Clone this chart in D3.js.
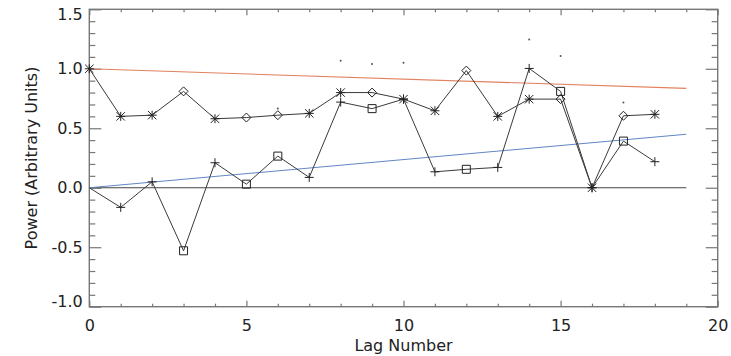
<!DOCTYPE html>
<html>
<head>
<meta charset="utf-8">
<script src="https://cdn.jsdelivr.net/npm/d3@7"></script>
<style>
  html, body { margin: 0; padding: 0; background: #fff; }
  svg { display: block; }
  text { font-family: "DejaVu Sans", sans-serif; fill: #222; }
</style>
</head>
<body>
<svg id="chart" width="731" height="356"></svg>
<script>
// Lag numbers
const lags = [0, 1, 2, 3, 4, 5, 6, 7, 8, 9, 10, 11, 12, 13, 14, 15, 16, 17, 18];

// Upper series (asterisk / diamond symbols)
const upperValues = [1.00, 0.60, 0.61, 0.81, 0.58, 0.59, 0.61, 0.625, 0.80, 0.80, 0.745, 0.647, 0.985, 0.60, 0.745, 0.745, 0.00, 0.605, 0.617];
const upperSymbols = ["asterisk", "asterisk", "asterisk", "diamond", "asterisk", "diamond", "diamond", "asterisk", "asterisk", "diamond", "asterisk", "asterisk", "diamond", "asterisk", "asterisk", "diamond", "asterisk", "diamond", "asterisk"];

// Lower series (plus / square symbols)
const lowerValues = [0.00, -0.165, 0.05, -0.53, 0.21, 0.03, 0.266, 0.087, 0.72, 0.665, 0.745, 0.134, 0.155, 0.171, 1.003, 0.81, 0.00, 0.392, 0.219];
const lowerSymbols = ["none", "plus", "plus", "square", "plus", "square", "square", "plus", "plus", "square", "plus", "plus", "square", "plus", "plus", "square", "plus", "square", "plus"];

// Isolated dot points
const dotLags = [6, 8, 9, 10, 14, 15, 17];
const dotValues = [0.667, 1.067, 1.04, 1.05, 1.247, 1.107, 0.717];

// Reference lines: [lagStart, valueStart, lagEnd, valueEnd]
const redLine = [0, 1.0, 19, 0.835];
const blueLine = [0, 0.0, 19, 0.45];
const zeroLine = [0, 0.0, 19, 0.0];

// Axis ticks
const xMajorTicks = [0, 5, 10, 15, 20];
const xTickLabels = ["0", "5", "10", "15", "20"];
const yMajorTicks = [-1.0, -0.5, 0.0, 0.5, 1.0, 1.5];
const yTickLabels = ["-1.0", "-0.5", "0.0", "0.5", "1.0", "1.5"];
const xTitle = "Lag Number";
const yTitle = "Power (Arbitrary Units)";

const svg = d3.select("#chart");
const plotL = 89.3, plotR = 717.7, plotT = 9.3, plotB = 306.7;

const x = d3.scaleLinear().domain([0, 20]).range([plotL, plotR]);
const y = d3.scaleLinear().domain([-1.0, 1.5]).range([plotB, plotT]);

const axisColor = "#777";

const xMinor = d3.range(0, 21).filter(v => v % 5 !== 0);
const yMinor = d3.range(-10, 16).map(v => v / 10).filter(v => Math.round(v * 10) % 5 !== 0);

function styleAxis(g) {
  g.select(".domain").remove();
  g.selectAll(".tick line").attr("stroke", axisColor).attr("stroke-width", 1.2);
  g.selectAll(".tick text").attr("font-size", 16).attr("fill", "#222")
    .attr("font-family", "DejaVu Sans, sans-serif");
}

// bottom axis
svg.append("g").attr("transform", `translate(0,${plotB})`)
  .call(d3.axisBottom(x).tickValues(xMajorTicks).tickSize(-6).tickPadding(12.6)
    .tickFormat((d, i) => xTickLabels[i]))
  .call(styleAxis);
svg.append("g").attr("transform", `translate(0,${plotB})`)
  .call(d3.axisBottom(x).tickValues(xMinor).tickSize(-3).tickFormat(""))
  .call(styleAxis);
// top axis
svg.append("g").attr("transform", `translate(0,${plotT})`)
  .call(d3.axisTop(x).tickValues(xMajorTicks).tickSize(-6).tickFormat(""))
  .call(styleAxis);
svg.append("g").attr("transform", `translate(0,${plotT})`)
  .call(d3.axisTop(x).tickValues(xMinor).tickSize(-3).tickFormat(""))
  .call(styleAxis);
// left axis
const leftAxis = svg.append("g").attr("transform", `translate(${plotL},0)`)
  .call(d3.axisLeft(y).tickValues(yMajorTicks).tickSize(-12).tickPadding(6.5)
    .tickFormat((d, i) => yTickLabels[i]))
  .call(styleAxis);
svg.append("g").attr("transform", `translate(${plotL},0)`)
  .call(d3.axisLeft(y).tickValues(yMinor).tickSize(-6).tickFormat(""))
  .call(styleAxis);
// right axis
svg.append("g").attr("transform", `translate(${plotR},0)`)
  .call(d3.axisRight(y).tickValues(yMajorTicks).tickSize(-12).tickFormat(""))
  .call(styleAxis);
svg.append("g").attr("transform", `translate(${plotR},0)`)
  .call(d3.axisRight(y).tickValues(yMinor).tickSize(-6).tickFormat(""))
  .call(styleAxis);

// end labels sit inside the frame height
leftAxis.selectAll(".tick text").attr("transform", d =>
  d === 1.5 ? "translate(0,5.3)" : (d === -1.0 ? "translate(0,-5)" : null));

// frame
svg.append("rect")
  .attr("x", plotL).attr("y", plotT)
  .attr("width", plotR - plotL).attr("height", plotB - plotT)
  .attr("fill", "none").attr("stroke", axisColor).attr("stroke-width", 1.4);

// reference lines
function refLine(seg, color) {
  svg.append("line")
    .attr("x1", x(seg[0])).attr("y1", y(seg[1]))
    .attr("x2", x(seg[2])).attr("y2", y(seg[3]))
    .attr("stroke", color).attr("stroke-width", 1.1);
}
refLine(zeroLine, "#444");
refLine(redLine, "#e2805f");
refLine(blueLine, "#6286c4");

// series lines
const line = d3.line().x(d => x(d[0])).y(d => y(d[1]));
const upperPts = lags.map((l, i) => [l, upperValues[i], upperSymbols[i]]);
const lowerPts = lags.map((l, i) => [l, lowerValues[i], lowerSymbols[i]]);

[lowerPts, upperPts].forEach(pts => {
  svg.append("path").datum(pts)
    .attr("d", line)
    .attr("fill", "none").attr("stroke", "#3a3a3a").attr("stroke-width", 1);
});

// symbols
function symbolPath(type) {
  const p = d3.path();
  if (type === "plus") {
    const h = 4.5;
    p.moveTo(-h, 0); p.lineTo(h, 0); p.moveTo(0, -h); p.lineTo(0, h);
  } else if (type === "asterisk") {
    const h = 4.5, d = 4.2;
    p.moveTo(-h, 0); p.lineTo(h, 0); p.moveTo(0, -h); p.lineTo(0, h);
    p.moveTo(-d, -d); p.lineTo(d, d); p.moveTo(-d, d); p.lineTo(d, -d);
  } else if (type === "diamond") {
    const h = 4.5;
    p.moveTo(0, -h); p.lineTo(h, 0); p.lineTo(0, h); p.lineTo(-h, 0); p.closePath();
  } else if (type === "square") {
    const h = 4;
    p.rect(-h, -h, 2 * h, 2 * h);
  }
  return p.toString();
}

svg.append("g").selectAll("path")
  .data(upperPts.concat(lowerPts).filter(d => d[2] !== "none"))
  .join("path")
  .attr("transform", d => `translate(${x(d[0])},${y(d[1])})`)
  .attr("d", d => symbolPath(d[2]))
  .attr("fill", "none").attr("stroke", "#222").attr("stroke-width", 1);

// dots
svg.append("g").selectAll("circle")
  .data(dotLags.map((l, i) => [l, dotValues[i]]))
  .join("circle")
  .attr("cx", d => x(d[0])).attr("cy", d => y(d[1]))
  .attr("r", 1).attr("fill", "#555");

// titles
svg.append("text")
  .attr("x", x(10)).attr("y", 350.5)
  .attr("text-anchor", "middle").attr("font-size", 16)
  .text(xTitle);
svg.append("text")
  .attr("transform", `translate(36.5,${(plotT + plotB) / 2}) rotate(-90)`)
  .attr("text-anchor", "middle").attr("font-size", 16)
  .text(yTitle);
</script>
</body>
</html>
